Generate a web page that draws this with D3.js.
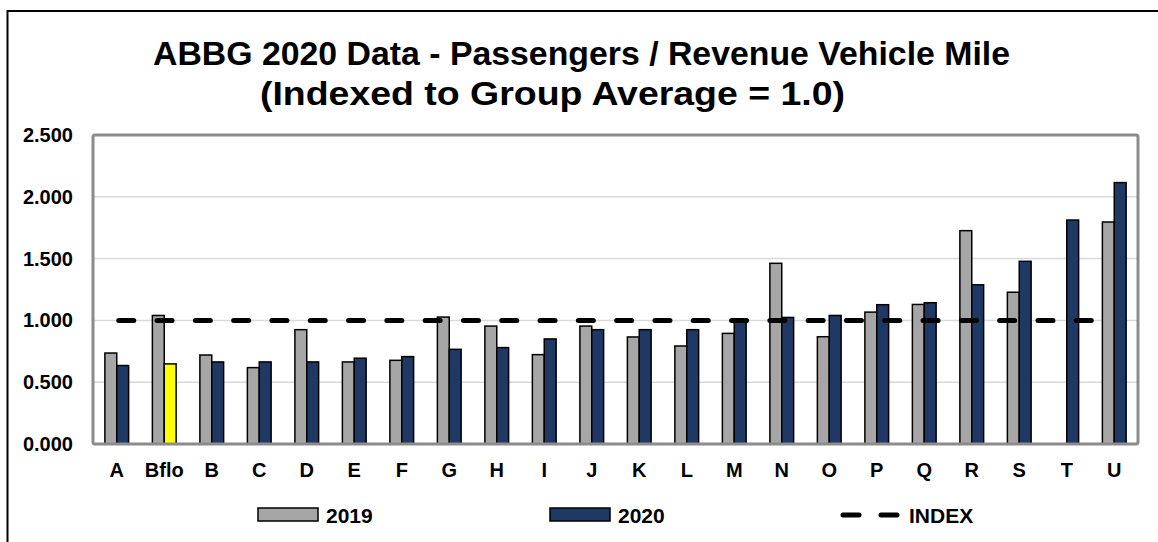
<!DOCTYPE html>
<html lang="en">
<head>
  <meta charset="UTF-8">
  <title>ABBG 2020 Data - Passengers / Revenue Vehicle Mile</title>
  <script src="https://d3js.org/d3.v7.min.js"></script>
  <style>
    body {
      margin: 0;
      padding: 0;
      background: #fff;
      font-family: Arial, "Liberation Sans", sans-serif;
    }
    text {
      font-weight: bold;
      fill: #000;
    }
  </style>
</head>
<body>
  <div id="chart"></div>
  <script>
    // data
    const categories = ["A", "Bflo", "B", "C", "D", "E", "F", "G", "H", "I", "J",
      "K", "L", "M", "N", "O", "P", "Q", "R", "S", "T", "U"];
    const values2019 = [0.736, 1.040, 0.720, 0.618, 0.925, 0.664, 0.677, 1.027, 0.954, 0.723, 0.954,
      0.866, 0.793, 0.895, 1.462, 0.868, 1.067, 1.129, 1.726, 1.228, null, 1.796];
    const values2020 = [0.635, 0.648, 0.664, 0.664, 0.664, 0.694, 0.707, 0.766, 0.780, 0.850, 0.925,
      0.925, 0.925, 1.000, 1.024, 1.040, 1.127, 1.143, 1.288, 1.478, 1.812, 2.115];
    const indexValue = 1.0;
    const yTicks = [0, 0.5, 1.0, 1.5, 2.0, 2.5];
    const highlight = "Bflo";

    const width = 1158;
    const height = 542;
    const margin = { top: 135, right: 20, bottom: 98, left: 93 };
    const plotW = 1138 - margin.left;
    const plotH = 444 - margin.top;

    const gray = "#a6a6a6";
    const navy = "#1f3864";

    const svg = d3.select("#chart")
      .append("svg")
      .attr("width", width)
      .attr("height", height);

    // outer chart border
    svg.append("rect")
      .attr("x", 7.5)
      .attr("y", 11)
      .attr("width", width)
      .attr("height", height)
      .attr("fill", "none")
      .attr("stroke", "#000")
      .attr("stroke-width", 2);

    // title (two lines, fitted to the width seen in the reference)
    svg.append("text")
      .attr("x", 153)
      .attr("y", 65)
      .attr("textLength", 857)
      .attr("lengthAdjust", "spacingAndGlyphs")
      .style("font-size", "33px")
      .text("ABBG 2020 Data - Passengers / Revenue Vehicle Mile");
    svg.append("text")
      .attr("x", 260)
      .attr("y", 105)
      .attr("textLength", 585)
      .attr("lengthAdjust", "spacingAndGlyphs")
      .style("font-size", "33px")
      .text("(Indexed to Group Average = 1.0)");

    const x = d3.scaleBand()
      .domain(categories)
      .range([margin.left, margin.left + plotW])
      .paddingInner(0.5)
      .paddingOuter(0.25);

    const xSub = d3.scaleBand()
      .domain(["2019", "2020"])
      .range([0, x.bandwidth()]);

    const y = d3.scaleLinear()
      .domain([0, 2.5])
      .range([margin.top + plotH, margin.top]);

    // gridlines
    svg.append("g")
      .selectAll("line")
      .data(yTicks.slice(1, -1))
      .join("line")
      .attr("x1", margin.left)
      .attr("x2", margin.left + plotW)
      .attr("y1", d => y(d))
      .attr("y2", d => y(d))
      .attr("stroke", "#d9d9d9")
      .attr("stroke-width", 1.5);

    // y axis labels
    const yAxis = svg.append("g")
      .attr("transform", `translate(${margin.left},0)`)
      .call(d3.axisLeft(y).tickValues(yTicks).tickFormat(d3.format(".3f")).tickSize(0).tickPadding(20));
    yAxis.select(".domain").remove();
    yAxis.selectAll("text")
      .style("font-family", "Arial, 'Liberation Sans', sans-serif")
      .style("font-size", "20px")
      .style("font-weight", "bold")
      .attr("fill", "#000");

    // x axis labels
    const xAxis = svg.append("g")
      .attr("transform", `translate(0,${margin.top + plotH})`)
      .call(d3.axisBottom(x).tickSize(0).tickPadding(19));
    xAxis.select(".domain").remove();
    xAxis.selectAll("text")
      .style("font-family", "Arial, 'Liberation Sans', sans-serif")
      .style("font-size", "20px")
      .style("font-weight", "bold")
      .attr("fill", "#000");

    // bars
    const rows = categories.map((c, i) => ({ cat: c, v2019: values2019[i], v2020: values2020[i] }));
    const groups = svg.append("g")
      .selectAll("g")
      .data(rows)
      .join("g")
      .attr("transform", d => `translate(${x(d.cat)},0)`);

    groups.filter(d => d.v2019 != null)
      .append("rect")
      .attr("x", xSub("2019"))
      .attr("width", xSub.bandwidth())
      .attr("y", d => y(d.v2019))
      .attr("height", d => y(0) - y(d.v2019))
      .attr("fill", gray)
      .attr("stroke", "#000")
      .attr("stroke-width", 1.5);

    groups.append("rect")
      .attr("x", xSub("2020"))
      .attr("width", xSub.bandwidth())
      .attr("y", d => y(d.v2020))
      .attr("height", d => y(0) - y(d.v2020))
      .attr("fill", d => d.cat === highlight ? "#ffff00" : navy)
      .attr("stroke", "#000")
      .attr("stroke-width", 1.5);

    // index line
    const first = categories[0], last = categories[categories.length - 1];
    svg.append("line")
      .attr("x1", x(first) + x.bandwidth() / 2 + 2)
      .attr("x2", x(last) + x.bandwidth() / 2)
      .attr("y1", y(indexValue))
      .attr("y2", y(indexValue))
      .attr("stroke", "#000")
      .attr("stroke-width", 5)
      .attr("stroke-linecap", "round")
      .attr("stroke-dasharray", "15,23.3");

    // plot frame
    svg.append("rect")
      .attr("x", margin.left)
      .attr("y", margin.top)
      .attr("width", plotW)
      .attr("height", plotH)
      .attr("rx", 2)
      .attr("fill", "none")
      .attr("stroke", "#8c8c8c")
      .attr("stroke-width", 3);

    // legend
    const legendY = 508;
    const legend = [
      { label: "2019", x: 258, type: "bar", color: gray },
      { label: "2020", x: 550, type: "bar", color: navy },
      { label: "INDEX", x: 840, type: "line" }
    ];
    const lg = svg.append("g")
      .selectAll("g")
      .data(legend)
      .join("g")
      .attr("transform", d => `translate(${d.x},${legendY})`);
    lg.filter(d => d.type === "bar")
      .append("rect")
      .attr("width", 60)
      .attr("height", 13)
      .attr("fill", d => d.color)
      .attr("stroke", "#000")
      .attr("stroke-width", 1.5);
    lg.filter(d => d.type === "line")
      .append("line")
      .attr("x1", 3)
      .attr("x2", 59)
      .attr("y1", 7)
      .attr("y2", 7)
      .attr("stroke", "#000")
      .attr("stroke-width", 5)
      .attr("stroke-linecap", "round")
      .attr("stroke-dasharray", "16,22");
    lg.append("text")
      .attr("x", d => d.type === "bar" ? 68 : 69)
      .attr("y", 15)
      .style("font-size", "21px")
      .text(d => d.label);
  </script>
</body>
</html>
